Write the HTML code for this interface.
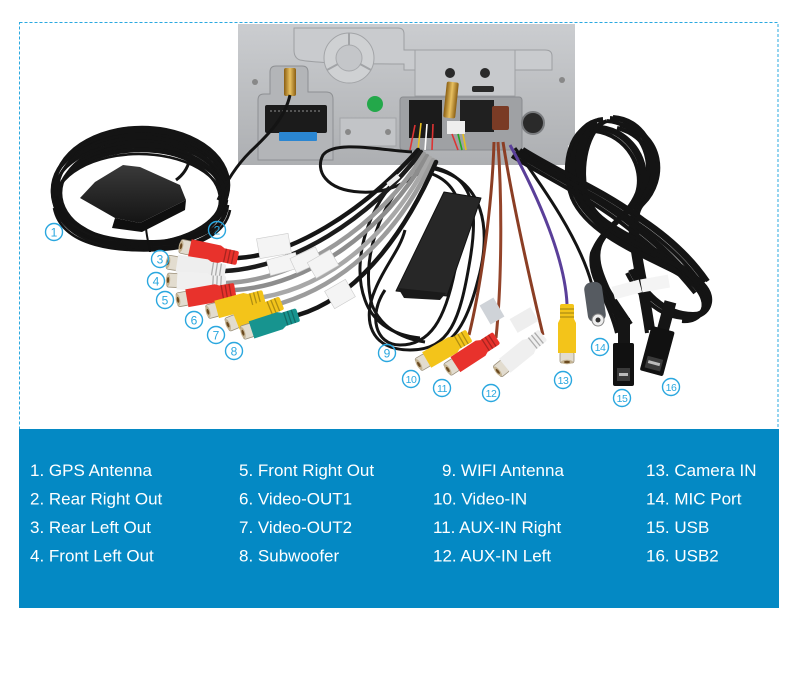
<!DOCTYPE html>
<html><head><meta charset="utf-8"><style>
html,body{margin:0;padding:0;background:#fff;}
svg{display:block;}
</style></head><body>
<svg width="800" height="674" viewBox="0 0 800 674" xmlns="http://www.w3.org/2000/svg">
<defs>
<linearGradient id="metal" x1="0" y1="0" x2="0" y2="1"><stop offset="0" stop-color="#cbcdd0"/><stop offset="1" stop-color="#adafb2"/></linearGradient>
<linearGradient id="gold" x1="0" y1="0" x2="1" y2="0"><stop offset="0" stop-color="#8a5e12"/><stop offset="0.5" stop-color="#e8c060"/><stop offset="1" stop-color="#8a5e12"/></linearGradient>
<linearGradient id="puck" x1="0" y1="0" x2="0" y2="1"><stop offset="0" stop-color="#3a3a3a"/><stop offset="1" stop-color="#141414"/></linearGradient>
<g id="rca">
 <rect x="0" y="-7" width="11" height="14" rx="2" fill="#e2dccf" stroke="#9a8f7a" stroke-width="0.8"/>
 <ellipse cx="1" cy="0" rx="2.2" ry="6" fill="#c4b392"/>
 <ellipse cx="1" cy="0" rx="1.2" ry="3" fill="#6b4a20"/>
 <path d="M10,-9 H40 L44,-7 V7 L40,9 H10 Z" fill="currentColor"/>
 <rect x="43" y="-7" width="16" height="14" rx="2" fill="currentColor"/>
 <path d="M46,-7V7M50,-7V7M54,-7V7" stroke="rgba(0,0,0,0.28)" stroke-width="1.3"/>
</g>
<g id="gcoil" fill="none" stroke="#141414" stroke-width="2.6">
 <ellipse cx="141" cy="187" rx="87" ry="58"/>
 <ellipse cx="140" cy="189" rx="86" ry="56"/>
 <ellipse cx="142" cy="191" rx="85" ry="55"/>
 <ellipse cx="139" cy="193" rx="84" ry="53"/>
 <ellipse cx="143" cy="195" rx="83" ry="52"/>
 <ellipse cx="140" cy="197" rx="82" ry="50"/>
 <ellipse cx="141" cy="199" rx="84" ry="48"/>
</g>
<g id="rcoil" fill="none" stroke="#141414" stroke-width="4">
 <path d="M600,120 C575,122 562,160 575,195 C590,230 640,250 680,270 C712,285 715,315 690,315 C660,315 640,290 630,270"/>
 <path d="M610,118 C640,120 655,150 650,175 C645,205 615,215 600,240 C585,265 610,290 620,330"/>
 <path d="M592,125 C570,140 568,180 590,210 C610,235 665,250 700,285 C715,300 705,320 685,318"/>
 <path d="M620,125 C660,135 665,180 640,205 C625,220 640,260 650,330"/>
 <path d="M604,122 C585,128 575,170 585,200 C600,235 655,252 692,278 C712,295 710,312 695,317"/>
 <path d="M598,128 C630,132 648,165 640,190 C630,215 605,225 595,250 C590,275 612,300 628,325"/>
 <path d="M520,150 C560,175 600,190 640,220 C670,240 690,260 705,282"/>
 <path d="M515,153 C555,178 595,196 632,226 C660,246 680,268 698,290"/>
</g>
</defs>

<!-- GPS coil (back) -->
<use href="#gcoil"/>
<use href="#gcoil" transform="translate(-2,3)"/>
<use href="#gcoil" transform="translate(1,-2)"/>
<!-- GPS puck -->
<path d="M176,180 C190,170 195,150 185,140" fill="none" stroke="#141414" stroke-width="3"/>
<polygon points="80,198 95,182 123,165 140,167 180,185 186,200 140,223 115,218" fill="url(#puck)"/>
<polygon points="115,218 140,223 186,200 185,210 142,232 112,228" fill="#0f0f0f"/>
<!-- GPS coil (front arcs) -->
<g fill="none" stroke="#121212" stroke-width="2.6">
 <path d="M55,200 C60,240 120,250 160,248 C200,246 225,230 228,205"/>
 <path d="M58,205 C65,243 120,246 160,244 C200,242 222,228 226,208"/>
 <path d="M57,196 C62,235 120,243 160,241 C200,239 224,222 227,200"/>
 <path d="M54,208 C62,248 120,252 160,250 C200,248 226,232 230,210"/>
</g>
<path d="M146,228 C147,240 150,248 150,252" stroke="#111" stroke-width="2" fill="none"/>

<!-- stereo box -->
<path d="M238,24 H575 V138 L568,146 V165 H238 Z" fill="url(#metal)"/>
<path d="M294,28 H398 Q404,28 404,34 V50 H545 Q552,50 552,56 V70 H404 V64 Q320,64 300,60 Q294,58 294,50 Z" fill="#c9cbce" stroke="#9d9fa2" stroke-width="1"/>
<circle cx="349" cy="58" r="25" fill="#cfd1d3" stroke="#a2a4a7"/>
<circle cx="349" cy="58" r="13" fill="#c4c6c9" stroke="#a7a9ac"/>
<path d="M349,33 V45 M327,70 L338,64 M371,70 L360,64" stroke="#a2a4a7" stroke-width="2"/>
<path d="M258,160 V100 Q258,94 264,94 H270 V72 Q270,66 276,66 H302 Q308,66 308,72 V92 H326 Q333,92 333,99 V160 Z" fill="#b3b5b8" stroke="#8e9093"/>
<rect x="265" y="105" width="62" height="28" rx="2" fill="#1b1b1b"/>
<path d="M270,111 H322" stroke="#555" stroke-width="2" stroke-dasharray="2 2"/>
<rect x="279" y="132" width="38" height="9" rx="1" fill="#2a86d2"/>
<rect x="284" y="68" width="12" height="28" rx="2" fill="url(#gold)"/>
<circle cx="375" cy="104" r="8" fill="#23a84a"/>
<rect x="340" y="118" width="56" height="28" fill="#c2c4c7" stroke="#a2a4a7"/>
<circle cx="348" cy="132" r="3" fill="#888"/><circle cx="388" cy="132" r="3" fill="#888"/>
<circle cx="255" cy="82" r="3" fill="#888"/><circle cx="562" cy="80" r="3" fill="#888"/>
<path d="M415,50 H515 V96 H415 Z" fill="#c7c9cc" stroke="#9fa1a4"/>
<circle cx="450" cy="73" r="5" fill="#2a2a2a"/><circle cx="485" cy="73" r="5" fill="#2a2a2a"/>
<rect x="472" y="86" width="22" height="6" rx="2" fill="#2a2a2a"/>
<rect x="400" y="97" width="122" height="53" rx="3" fill="#9fa1a4" stroke="#8a8c8f"/>
<rect x="409" y="100" width="33" height="38" fill="#1b1b1b"/>
<rect x="460" y="100" width="34" height="32" fill="#202020"/>
<rect x="447" y="121" width="18" height="13" fill="#eeeeee"/>
<rect x="492" y="106" width="17" height="24" rx="2" fill="#7a3b25"/>
<rect x="445" y="82" width="12" height="36" rx="2" fill="url(#gold)" transform="rotate(6 451 100)"/>
<circle cx="533" cy="123" r="11" fill="#2a2a2a" stroke="#7a7c7f" stroke-width="2"/>
<g stroke-width="1.6" fill="none">
 <path d="M415,125 L410,150" stroke="#d33"/><path d="M421,123 L418,150" stroke="#e8c020"/>
 <path d="M427,124 L425,150" stroke="#fff"/><path d="M433,124 L432,150" stroke="#d33"/>
 <path d="M452,134 L458,150" stroke="#d33"/><path d="M458,134 L462,150" stroke="#2a2"/><path d="M463,134 L466,150" stroke="#e8c020"/>
</g>

<!-- GPS cable -->
<path d="M290,95 C285,118 268,135 250,152 C236,166 226,182 218,200" fill="none" stroke="#141414" stroke-width="3"/>

<!-- right coil -->
<use href="#rcoil"/>
<use href="#rcoil" transform="translate(-3,3)"/>
<use href="#rcoil" transform="translate(3,-1)"/>

<!-- left black loop -->
<path d="M412,152 C380,150 335,140 323,155 C315,170 325,190 360,192 C390,194 410,180 420,172" fill="none" stroke="#141414" stroke-width="3"/>

<!-- loops around antenna -->
<g fill="none" stroke="#141414" stroke-width="3">
 <path d="M420,165 C470,170 480,200 470,260 C460,320 450,350 410,350 C370,350 362,320 375,290 C385,265 400,250 405,230"/>
 <path d="M415,170 C460,175 470,210 455,270 C445,320 430,345 400,345 C375,345 368,315 385,290"/>
 <path d="M405,172 C370,200 350,260 365,300 C372,320 390,335 420,338"/>
 <path d="M430,168 C485,178 492,230 478,280 C468,320 455,340 440,345"/>
 <path d="M410,175 C380,205 360,260 372,305 C380,325 398,338 425,342"/>
</g>

<!-- left bundle cables -->
<g fill="none" stroke-width="4.5" stroke-linecap="round">
 <path d="M238,258 C290,255 360,215 418,150" stroke="#161616"/>
 <path d="M225,271 C290,268 370,220 421,152" stroke="#1c1c1c"/>
 <path d="M226,283 C300,280 380,225 424,154" stroke="#9a9a9a"/>
 <path d="M235,290 C310,285 385,230 427,156" stroke="#8d8d8d"/>
 <path d="M264,297 C330,285 390,235 430,158" stroke="#a8a8a8"/>
 <path d="M282,303 C340,285 395,240 433,160" stroke="#9c9c9c"/>
 <path d="M298,315 C350,300 400,245 436,162" stroke="#161616"/>
</g>
<rect x="386" y="178" width="14" height="5" fill="#eee" transform="rotate(-40 393 180)"/>
<!-- tags -->
<g fill="#f4f4f4" stroke="#ccc" stroke-width="0.6">
 <rect x="258" y="236" width="32" height="20" transform="rotate(-10 274 246)"/>
 <rect x="268" y="256" width="30" height="16" transform="rotate(-15 283 264)"/>
 <rect x="292" y="252" width="28" height="16" transform="rotate(-25 306 260)"/>
 <rect x="310" y="255" width="26" height="18" transform="rotate(-30 323 264)"/>
 <rect x="328" y="284" width="24" height="20" transform="rotate(-30 340 294)"/>
</g>

<!-- wifi antenna -->
<polygon points="444,192 481,198 447,296 396,291" fill="#272727" stroke="#111" stroke-width="1" stroke-linejoin="round"/>
<path d="M398,288 L446,293 L440,300 L404,298 Z" fill="#1a1a1a"/>

<!-- brown / purple / mic cables -->
<g fill="none" stroke-width="3">
 <path d="M469,335 C480,290 492,210 494,142" stroke="#8b3e24"/>
 <path d="M496,338 C502,280 502,200 498,142" stroke="#94442a"/>
 <path d="M543,335 C530,280 512,200 503,142" stroke="#8b3e24"/>
 <path d="M567,304 C565,260 540,200 510,145" stroke="#5a3f99"/>
 <path d="M592,285 C580,240 545,190 515,148" stroke="#141414"/>
</g>
<rect x="484" y="300" width="16" height="22" fill="#cfd3d8" transform="rotate(-30 492 311)"/>
<rect x="512" y="312" width="24" height="16" fill="#eee" transform="rotate(-30 524 320)"/>

<!-- left RCAs -->
<use href="#rca" transform="translate(180,246) rotate(12)" color="#e8322c"/>
<use href="#rca" transform="translate(167,262) rotate(9)" color="#eeeeee"/>
<use href="#rca" transform="translate(167,280) rotate(3)" color="#f0f0f0"/>
<use href="#rca" transform="translate(177,300) rotate(-10)" color="#e8322c"/>
<use href="#rca" transform="translate(207,312) rotate(-15)" color="#f3c41a"/>
<use href="#rca" transform="translate(227,325) rotate(-22)" color="#f3c41a"/>
<use href="#rca" transform="translate(242,333) rotate(-18)" color="#17948f"/>
<!-- right RCAs -->
<use href="#rca" transform="translate(418,365) rotate(-30)" color="#f3c41a"/>
<use href="#rca" transform="translate(447,370) rotate(-33)" color="#e8322c"/>
<use href="#rca" transform="translate(497,372) rotate(-39)" color="#efefef"/>
<use href="#rca" transform="translate(567,363) rotate(-90)" color="#f3c41a"/>
<!-- mic -->
<rect x="586" y="282" width="18" height="40" rx="7" fill="#565b61" transform="rotate(-8 595 302)"/>
<circle cx="598" cy="320" r="6" fill="#eee" stroke="#888"/>
<circle cx="598" cy="320" r="2.5" fill="#333"/>
<!-- USB -->
<rect x="618" y="318" width="12" height="28" fill="#151515"/>
<rect x="613" y="343" width="21" height="43" rx="2" fill="#111"/>
<rect x="617" y="368" width="13" height="13" fill="#3a3a3a"/>
<rect x="619" y="373" width="9" height="3" fill="#bbb"/>
<g transform="rotate(15 657 352)">
 <rect x="651" y="300" width="12" height="30" fill="#151515"/>
 <rect x="645" y="328" width="24" height="46" rx="2" fill="#111"/>
 <rect x="649" y="358" width="16" height="12" fill="#3a3a3a"/>
 <rect x="651" y="362" width="12" height="3" fill="#bbb"/>
</g>
<rect x="613" y="283" width="28" height="13" fill="#f4f4f4" transform="rotate(-15 627 290)"/>
<rect x="641" y="277" width="28" height="13" fill="#f4f4f4" transform="rotate(-10 655 283)"/>

<!-- circled numbers -->
<g fill="none" stroke="#2aa7df" stroke-width="1.4">
 <circle cx="54" cy="232" r="8.5"/><circle cx="217" cy="230" r="8.5"/><circle cx="160" cy="259" r="8.5"/>
 <circle cx="156" cy="281" r="8.5"/><circle cx="165" cy="300" r="8.5"/><circle cx="194" cy="320" r="8.5"/>
 <circle cx="216" cy="335" r="8.5"/><circle cx="234" cy="351" r="8.5"/><circle cx="387" cy="353" r="8.5"/>
 <circle cx="411" cy="379" r="8.5"/><circle cx="442" cy="388" r="8.5"/><circle cx="491" cy="393" r="8.5"/>
 <circle cx="563" cy="380" r="8.5"/><circle cx="600" cy="347" r="8.5"/><circle cx="622" cy="398" r="8.5"/>
 <circle cx="671" cy="387" r="8.5"/>
</g>
<g fill="#2aa7df" font-family="Liberation Sans, Arial, sans-serif" font-size="12" text-anchor="middle">
 <text x="54" y="236.5">1</text><text x="217" y="234.5">2</text><text x="160" y="263.5">3</text>
 <text x="156" y="285.5">4</text><text x="165" y="304.5">5</text><text x="194" y="324.5">6</text>
 <text x="216" y="339.5">7</text><text x="234" y="355.5">8</text><text x="387" y="357.5">9</text>
 <text x="411" y="383" font-size="10.5" letter-spacing="-0.5">10</text><text x="442" y="392" font-size="10.5" letter-spacing="-0.5">11</text>
 <text x="491" y="397" font-size="10.5" letter-spacing="-0.5">12</text><text x="563" y="384" font-size="10.5" letter-spacing="-0.5">13</text>
 <text x="600" y="351" font-size="10.5" letter-spacing="-0.5">14</text><text x="622" y="402" font-size="10.5" letter-spacing="-0.5">15</text>
 <text x="671" y="391" font-size="10.5" letter-spacing="-0.5">16</text>
</g>

<!-- dashed border -->
<rect x="19.5" y="22.5" width="758.5" height="420" fill="none" stroke="#2aa9e1" stroke-width="1" stroke-dasharray="3 2"/>

<!-- blue panel -->
<rect x="19" y="429" width="760" height="179" fill="#0489c4"/>
<g fill="#ffffff" font-family="Liberation Sans, Arial, sans-serif" font-size="17">
 <text x="30" y="476">1. GPS Antenna</text>
 <text x="30" y="504.5">2. Rear Right Out</text>
 <text x="30" y="533">3. Rear Left Out</text>
 <text x="30" y="561.5">4. Front Left Out</text>
 <text x="239" y="476">5. Front Right Out</text>
 <text x="239" y="504.5">6. Video-OUT1</text>
 <text x="239" y="533">7. Video-OUT2</text>
 <text x="239" y="561.5">8. Subwoofer</text>
 <text x="442" y="476">9. WIFI Antenna</text>
 <text x="433" y="504.5">10. Video-IN</text>
 <text x="433" y="533">11. AUX-IN Right</text>
 <text x="433" y="561.5">12. AUX-IN Left</text>
 <text x="646" y="476">13. Camera IN</text>
 <text x="646" y="504.5">14. MIC Port</text>
 <text x="646" y="533">15. USB</text>
 <text x="646" y="561.5">16. USB2</text>
</g>
</svg>
</body></html>
